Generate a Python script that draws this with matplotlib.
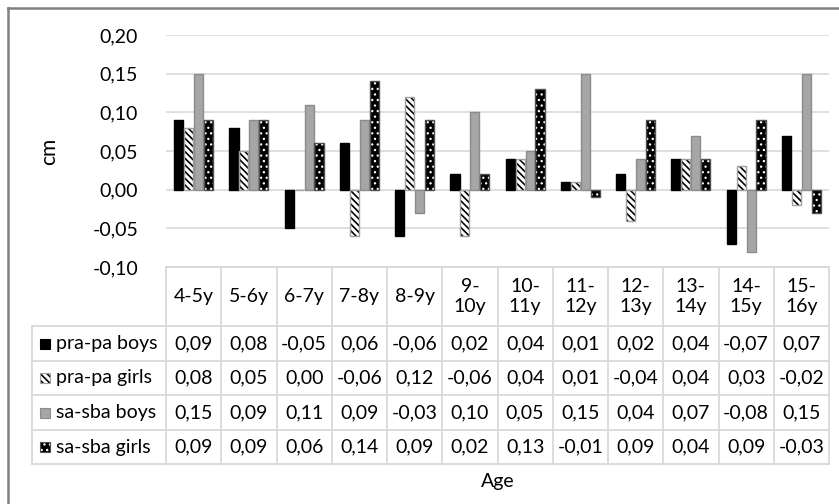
import numpy as np
import matplotlib
matplotlib.use("Agg")
import matplotlib.pyplot as plt
from matplotlib.patches import Rectangle
from matplotlib.ticker import FuncFormatter

plt.rcParams['font.family'] = ['Lato', 'DejaVu Sans']

# data
ages = ["4-5y", "5-6y", "6-7y", "7-8y", "8-9y", "9-\n10y", "10-\n11y",
        "11-\n12y", "12-\n13y", "13-\n14y", "14-\n15y", "15-\n16y"]
series_names = ["pra-pa boys", "pra-pa girls", "sa-sba boys", "sa-sba girls"]
pra_pa_boys = [0.09, 0.08, -0.05, 0.06, -0.06, 0.02, 0.04, 0.01, 0.02, 0.04, -0.07, 0.07]
pra_pa_girls = [0.08, 0.05, 0.00, -0.06, 0.12, -0.06, 0.04, 0.01, -0.04, 0.04, 0.03, -0.02]
sa_sba_boys = [0.15, 0.09, 0.11, 0.09, -0.03, 0.10, 0.05, 0.15, 0.04, 0.07, -0.08, 0.15]
sa_sba_girls = [0.09, 0.09, 0.06, 0.14, 0.09, 0.02, 0.13, -0.01, 0.09, 0.04, 0.09, -0.03]
series = [pra_pa_boys, pra_pa_girls, sa_sba_boys, sa_sba_girls]

# style per series: face, hatch, hatch colour, hatch width, outline
styles = [
    dict(fc='black', hatch=None, hc='black', hw=1.0, ec='black'),
    dict(fc='white', hatch='\\\\\\\\\\', hc='black', hw=1.2, ec='#a0a0a0'),
    dict(fc='#a6a6a6', hatch=None, hc='#a6a6a6', hw=1.0, ec='#8c8c8c'),
    dict(fc='black', hatch='...', hc='white', hw=0.9, ec='#505050'),
]

W, H = 839, 504
fig = plt.figure(figsize=(W / 100, H / 100), dpi=100)

# pixel layout
x0, x1 = 166, 829
ytop, ybot = 35, 267
ncol = len(ages)
colw = (x1 - x0) / ncol
leg_x = 32
row_y = [267, 326, 361, 395, 430, 464]
grid_c = '#d9d9d9'
fs = 14

ax = fig.add_axes([x0 / W, 1 - ybot / H, (x1 - x0) / W, (ybot - ytop) / H])
ax.patch.set_alpha(0)
x = np.arange(ncol)
bw = 0.165
step = 0.18
for i, (vals, st) in enumerate(zip(series, styles)):
    pos = x + (i - 1.5) * step
    with plt.rc_context({'hatch.linewidth': st['hw']}):
        ax.bar(pos, vals, bw, color=st['fc'], hatch=st['hatch'], edgecolor=st['hc'],
               linewidth=0, zorder=3)
    ax.bar(pos, vals, bw, color='none', edgecolor=st['ec'], linewidth=1, zorder=4)

ax.set_xlim(-0.5, ncol - 0.5)
ax.set_ylim(-0.10, 0.20)
ax.set_yticks(np.arange(-0.10, 0.201, 0.05))
ax.yaxis.set_major_formatter(FuncFormatter(lambda v, p: f"{v:.2f}".replace('.', ',')))
ax.tick_params(axis='y', length=0, pad=20, labelsize=fs)
ax.set_xticks([])
ax.grid(axis='y', color=grid_c, linewidth=1.2, zorder=0)
for s in ax.spines.values():
    s.set_visible(False)

# data table drawn in pixel coordinates
tb = fig.add_axes([0, 0, 1, 1], zorder=-1)
tb.set_xlim(0, W)
tb.set_ylim(H, 0)
tb.axis('off')

tb.text(49, 151, "cm", rotation=90, ha='center', va='center', fontsize=fs + 1)

lw = 1.3
tb.plot([x0, x1], [row_y[0], row_y[0]], color=grid_c, lw=lw)
for yy in row_y[1:]:
    tb.plot([leg_x, x1], [yy, yy], color=grid_c, lw=lw)
for j in range(ncol + 1):
    xx = x0 + j * colw
    tb.plot([xx, xx], [row_y[0], row_y[-1]], color=grid_c, lw=lw)
tb.plot([leg_x, leg_x], [row_y[1], row_y[-1]], color=grid_c, lw=lw)

for j, lab in enumerate(ages):
    cx = x0 + (j + 0.5) * colw
    tb.text(cx, (row_y[0] + row_y[1]) / 2, lab, ha='center', va='center',
            fontsize=fs, linespacing=1.2)

for r, (name, vals, st) in enumerate(zip(series_names, series, styles)):
    cy = (row_y[r + 1] + row_y[r + 2]) / 2
    with plt.rc_context({'hatch.linewidth': st['hw']}):
        tb.add_patch(Rectangle((40, cy - 5), 10, 10, facecolor=st['fc'], hatch=st['hatch'],
                               edgecolor=st['hc'], linewidth=0))
    tb.add_patch(Rectangle((40, cy - 5), 10, 10, facecolor='none',
                           edgecolor=st['ec'], linewidth=0.8))
    tb.text(56, cy, name, ha='left', va='center', fontsize=fs)
    for j, v in enumerate(vals):
        cx = x0 + (j + 0.5) * colw
        tb.text(cx, cy, f"{v:.2f}".replace('.', ','), ha='center', va='center', fontsize=fs)

tb.text((x0 + x1) / 2, 481, "Age", ha='center', va='center', fontsize=fs)

# outer chart border (right/bottom edges lie outside the picture)
tb.plot([8, W], [8, 8], color='#808080', lw=1.8)
tb.plot([8, 8], [8, H], color='#808080', lw=1.8)

fig.savefig("out.png", dpi=100)
